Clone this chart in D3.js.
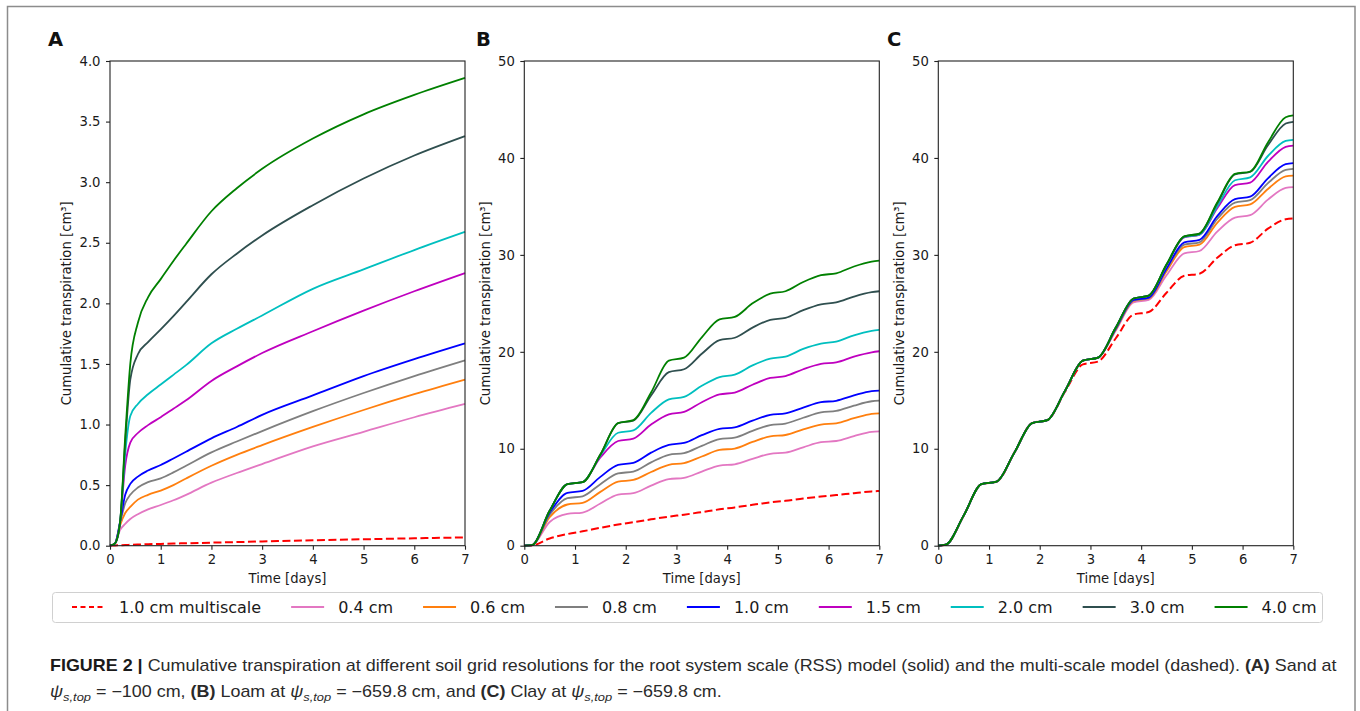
<!DOCTYPE html>
<html>
<head>
<meta charset="utf-8">
<script src="https://cdn.jsdelivr.net/npm/d3@7"></script>
<style>
  body { margin: 0; background: #fff; }
  svg text { font-family: "DejaVu Sans", sans-serif; }
</style>
</head>
<body>
<script>
// ---- data ----
var seriesLabels = ["1.0 cm multiscale", "0.4 cm", "0.6 cm", "0.8 cm", "1.0 cm", "1.5 cm", "2.0 cm", "3.0 cm", "4.0 cm"];
var seriesColors = ["#ff0000", "#e377c2", "#ff7f0e", "#7f7f7f", "#0000ff", "#bf00bf", "#00bfbf", "#2f4f4f", "#008000"];
var dayTicks = [0, 1, 2, 3, 4, 5, 6, 7];
var sandTicks = [0, 0.5, 1, 1.5, 2, 2.5, 3, 3.5, 4];
var loamTicks = [0, 10, 20, 30, 40, 50];

// (A) sand
var timesA = [0, 0.1, 0.2, 0.3, 0.4, 0.55, 0.75, 1, 1.25, 1.5, 2, 2.5, 3, 4, 5, 6, 7];
var sandMulti = [0, 0.002, 0.004, 0.006, 0.007, 0.009, 0.012, 0.015, 0.018, 0.02, 0.025, 0.03, 0.035, 0.045, 0.053, 0.061, 0.068];
var sand04 = [0, 0.02, 0.13, 0.18, 0.22, 0.26, 0.30, 0.336, 0.375, 0.42, 0.52, 0.6, 0.674, 0.82, 0.94, 1.06, 1.17];
var sand06 = [0, 0.02, 0.17, 0.27, 0.32, 0.38, 0.42, 0.455, 0.50, 0.555, 0.66, 0.75, 0.83, 0.98, 1.12, 1.25, 1.37];
var sand08 = [0, 0.02, 0.19, 0.35, 0.42, 0.48, 0.525, 0.556, 0.605, 0.66, 0.77, 0.86, 0.946, 1.11, 1.26, 1.40, 1.53];
var sand10 = [0, 0.02, 0.2, 0.42, 0.51, 0.57, 0.62, 0.666, 0.72, 0.775, 0.886, 0.98, 1.08, 1.24, 1.40, 1.54, 1.67];
var sand15 = [0, 0.02, 0.2, 0.66, 0.85, 0.93, 0.995, 1.06, 1.13, 1.2, 1.36, 1.48, 1.59, 1.77, 1.94, 2.10, 2.25];
var sand20 = [0, 0.02, 0.2, 0.76, 1.07, 1.17, 1.25, 1.33, 1.41, 1.49, 1.67, 1.79, 1.90, 2.12, 2.28, 2.44, 2.59];
var sand30 = [0, 0.02, 0.2, 0.85, 1.37, 1.58, 1.68, 1.785, 1.895, 2.01, 2.24, 2.41, 2.56, 2.81, 3.03, 3.22, 3.38];
var sand40 = [0, 0.02, 0.2, 0.9, 1.5, 1.84, 2.05, 2.2, 2.35, 2.49, 2.76, 2.95, 3.11, 3.36, 3.56, 3.72, 3.86];

// (B) loam and (C) clay share the same sampling days
var timesBC = [0, 0.15, 0.5, 0.85, 1.15, 1.5, 1.85, 2.15, 2.5, 2.85, 3.15, 3.5, 3.85, 4.15, 4.5, 4.85, 5.15, 5.5, 5.85, 6.15, 6.5, 6.85, 7];
var loamMulti = [0, 0.03, 0.75, 1.2, 1.48, 1.85, 2.18, 2.42, 2.72, 3.0, 3.2, 3.47, 3.75, 3.95, 4.22, 4.47, 4.63, 4.87, 5.07, 5.22, 5.42, 5.6, 5.65];
var loam04 = [0, 0.05, 2.45, 3.28, 3.42, 4.35, 5.28, 5.42, 6.2, 6.86, 7.0, 7.65, 8.27, 8.4, 8.95, 9.48, 9.6, 10.15, 10.68, 10.8, 11.3, 11.75, 11.8];
var loam06 = [0, 0.05, 2.95, 4.25, 4.42, 5.55, 6.6, 6.78, 7.6, 8.35, 8.52, 9.2, 9.88, 10.02, 10.7, 11.28, 11.42, 12.0, 12.5, 12.63, 13.15, 13.6, 13.66];
var loam08 = [0, 0.05, 3.2, 4.9, 5.1, 6.35, 7.45, 7.65, 8.6, 9.38, 9.55, 10.3, 11.0, 11.15, 11.85, 12.45, 12.6, 13.2, 13.75, 13.9, 14.45, 14.9, 14.97];
var loam10 = [0, 0.05, 3.4, 5.45, 5.65, 7.1, 8.35, 8.55, 9.6, 10.4, 10.6, 11.4, 12.05, 12.2, 12.9, 13.5, 13.65, 14.25, 14.8, 14.95, 15.5, 15.95, 16.0];
var loam15 = [0, 0.05, 3.6, 6.35, 6.55, 9.1, 10.8, 11.05, 12.5, 13.55, 13.8, 14.8, 15.6, 15.8, 16.6, 17.3, 17.5, 18.2, 18.75, 18.9, 19.5, 19.95, 20.06];
var loam20 = [0, 0.05, 3.6, 6.35, 6.55, 9.3, 11.65, 11.9, 13.7, 15.1, 15.35, 16.5, 17.4, 17.65, 18.6, 19.3, 19.5, 20.3, 20.85, 21.05, 21.7, 22.15, 22.26];
var loam30 = [0, 0.05, 3.6, 6.35, 6.55, 9.4, 12.65, 12.9, 15.5, 17.9, 18.2, 19.8, 21.2, 21.45, 22.5, 23.3, 23.5, 24.3, 24.9, 25.1, 25.7, 26.15, 26.25];
var loam40 = [0, 0.05, 3.6, 6.35, 6.55, 9.4, 12.65, 12.95, 15.8, 19.1, 19.4, 21.5, 23.35, 23.6, 25.0, 26.0, 26.25, 27.2, 27.9, 28.1, 28.8, 29.3, 29.4];

var clayMulti = [0, 0.1, 3.1, 6.35, 6.6, 9.6, 12.65, 12.95, 15.9, 18.7, 19.0, 21.4, 23.85, 24.1, 26.1, 27.85, 28.05, 29.7, 31.0, 31.25, 32.7, 33.68, 33.75];
var clay04 = [0, 0.1, 3.1, 6.35, 6.6, 9.6, 12.65, 12.95, 16.0, 19.1, 19.4, 22.2, 25.1, 25.35, 27.9, 30.15, 30.4, 32.4, 33.85, 34.1, 35.7, 36.9, 36.99];
var clay06 = [0, 0.1, 3.1, 6.35, 6.6, 9.6, 12.65, 12.95, 16.0, 19.1, 19.4, 22.3, 25.25, 25.5, 28.3, 30.8, 31.05, 33.3, 34.95, 35.2, 36.8, 38.1, 38.18];
var clay08 = [0, 0.1, 3.1, 6.35, 6.6, 9.6, 12.65, 12.95, 16.0, 19.1, 19.4, 22.35, 25.3, 25.55, 28.5, 31.05, 31.3, 33.7, 35.4, 35.65, 37.4, 38.77, 38.87];
var clay10 = [0, 0.1, 3.1, 6.35, 6.6, 9.6, 12.65, 12.95, 16.0, 19.1, 19.4, 22.4, 25.35, 25.6, 28.6, 31.3, 31.55, 34.0, 35.75, 36.0, 37.9, 39.35, 39.46];
var clay15 = [0, 0.1, 3.1, 6.35, 6.6, 9.6, 12.65, 12.95, 16.0, 19.1, 19.4, 22.5, 25.5, 25.8, 28.9, 31.8, 32.05, 34.8, 37.2, 37.45, 39.6, 41.15, 41.28];
var clay20 = [0, 0.1, 3.1, 6.35, 6.6, 9.6, 12.65, 12.95, 16.0, 19.1, 19.4, 22.5, 25.5, 25.8, 28.95, 31.85, 32.1, 35.0, 37.7, 38.0, 40.2, 41.75, 41.87];
var clay30 = [0, 0.1, 3.1, 6.35, 6.6, 9.6, 12.65, 12.95, 16.0, 19.1, 19.4, 22.5, 25.5, 25.8, 29.0, 31.9, 32.2, 35.3, 38.3, 38.55, 41.3, 43.55, 43.73];
var clay40 = [0, 0.1, 3.1, 6.35, 6.6, 9.6, 12.65, 12.95, 16.0, 19.1, 19.4, 22.5, 25.5, 25.8, 29.0, 31.9, 32.2, 35.4, 38.35, 38.6, 41.6, 44.2, 44.38];

var panels = [
  {letter: "A", times: timesA, yMax: 4, ticks: sandTicks, fmt: ".1f",
   series: [sandMulti, sand04, sand06, sand08, sand10, sand15, sand20, sand30, sand40]},
  {letter: "B", times: timesBC, yMax: 50, ticks: loamTicks, fmt: "d",
   series: [loamMulti, loam04, loam06, loam08, loam10, loam15, loam20, loam30, loam40]},
  {letter: "C", times: timesBC, yMax: 50, ticks: loamTicks, fmt: "d",
   series: [clayMulti, clay04, clay06, clay08, clay10, clay15, clay20, clay30, clay40]}
];

// ---- layout ----
var W = 1360, H = 711;
var plot = {top: 61, bottom: 545.7, width: 355};
var plotLefts = [110, 524.3, 938.3];
var letterX = [48, 476, 887];
var ink = "#1a1a1a";
var lineW = 1.8, dashW = 2, dashes = "8,3.5";

var svg = d3.select("body").append("svg")
  .attr("width", W)
  .attr("height", H);

//outer frame of the figure
svg.append("rect")
  .attr("x", 7.5).attr("y", 6.5)
  .attr("width", 1347.5).attr("height", 730)
  .attr("fill", "none")
  .attr("stroke", "#8c8c8c")
  .attr("stroke-width", 1.5);

var ph = plot.bottom - plot.top;

panels.forEach(function(p, i){
  var g = svg.append("g")
    .attr("transform", "translate(" + plotLefts[i] + "," + plot.top + ")");
  var x = d3.scaleLinear().domain([0, 7]).range([0, plot.width]);
  var y = d3.scaleLinear().domain([0, p.yMax]).range([ph, 0]);

  var line = d3.line()
    .x(function(d, j){ return x(p.times[j]); })
    .y(function(d){ return y(d); })
    .curve(d3.curveMonotoneX);

  //series in legend order, so 4.0 cm ends up on top
  p.series.forEach(function(s, k){
    g.append("path")
      .datum(s)
      .attr("d", line)
      .attr("fill", "none")
      .attr("stroke", seriesColors[k])
      .attr("stroke-width", k === 0 ? dashW : lineW)
      .attr("stroke-dasharray", k === 0 ? dashes : null)
      .attr("stroke-linejoin", "round");
  });

  g.append("rect")
    .attr("width", plot.width)
    .attr("height", ph)
    .attr("fill", "none")
    .attr("stroke", "#222")
    .attr("stroke-width", 1.1);

  var xa = g.append("g")
    .attr("transform", "translate(0," + ph + ")")
    .call(d3.axisBottom(x).tickValues(dayTicks).tickSize(4).tickSizeOuter(0)
      .tickPadding(5).tickFormat(d3.format("d")));
  var ya = g.append("g")
    .call(d3.axisLeft(y).tickValues(p.ticks).tickSize(4).tickSizeOuter(0)
      .tickPadding(5.5).tickFormat(d3.format(p.fmt)));
  [xa, ya].forEach(function(a){
    a.select(".domain").remove();
    a.attr("font-family", "DejaVu Sans").attr("font-size", 13.2).attr("color", ink);
    a.selectAll("line").attr("stroke", "#222").attr("stroke-width", 1.1);
  });

  //ylabel sits left of the widest tick label
  var maxW = d3.max(ya.selectAll("text").nodes(), function(n){ return n.getBBox().width; });
  g.append("text")
    .attr("transform", "translate(" + (-(4 + 5.5 + maxW + 8.3)) + "," + (ph / 2) + ") rotate(-90)")
    .attr("text-anchor", "middle")
    .attr("font-size", 13.2)
    .attr("fill", ink)
    .text("Cumulative transpiration [cm³]");

  g.append("text")
    .attr("x", plot.width / 2)
    .attr("y", 582.5 - plot.top)
    .attr("text-anchor", "middle")
    .attr("font-size", 13.2)
    .attr("fill", ink)
    .text("Time [days]");

  svg.append("text")
    .attr("x", letterX[i])
    .attr("y", 46)
    .attr("font-size", 19.5)
    .attr("font-weight", "bold")
    .attr("fill", "#111")
    .text(p.letter);
});

// ---- legend ----
var leg = svg.append("g");
leg.append("rect")
  .attr("x", 52.5).attr("y", 592.5)
  .attr("width", 1270).attr("height", 30)
  .attr("rx", 3)
  .attr("fill", "#fff")
  .attr("stroke", "#d0d0d0")
  .attr("stroke-width", 1);
var cx = 72, legY = 607;
seriesLabels.forEach(function(lab, k){
  leg.append("line")
    .attr("x1", cx).attr("x2", cx + 33)
    .attr("y1", legY).attr("y2", legY)
    .attr("stroke", seriesColors[k])
    .attr("stroke-width", k === 0 ? dashW : lineW)
    .attr("stroke-dasharray", k === 0 ? "5,3.5" : null);
  var t = leg.append("text")
    .attr("x", cx + 33 + 14)
    .attr("y", legY + 5.8)
    .attr("font-size", 16)
    .attr("fill", ink)
    .text(lab);
  cx += 33 + 14 + t.node().getComputedTextLength() + 30;
});

// ---- caption ----
var cap = svg.append("g").attr("font-size", 16).attr("fill", "#2a2a2a");
var capFont = "'Liberation Sans', Arial, sans-serif";

function psi(t){
  t.append("tspan").attr("font-style", "italic").text("ψ");
  t.append("tspan").attr("font-style", "italic").attr("font-size", 11.5).attr("dy", 3.5).text("s,top");
  return t.append("tspan").attr("dy", -3.5);
}

var l1 = cap.append("text").attr("x", 50).attr("y", 671.5).style("font-family", capFont);
l1.append("tspan").attr("font-weight", "bold").attr("fill", "#1a1a1a").text("FIGURE 2 | ");
l1.append("tspan").text("Cumulative transpiration at different soil grid resolutions for the root system scale (RSS) model (solid) and the multi-scale model (dashed). ");
l1.append("tspan").attr("font-weight", "bold").text("(A)");
l1.append("tspan").text(" Sand at");

var l2 = cap.append("text").attr("x", 50).attr("y", 697.5).style("font-family", capFont);
psi(l2).text(" = −100 cm, ");
l2.append("tspan").attr("font-weight", "bold").text("(B)");
l2.append("tspan").text(" Loam at ");
psi(l2).text(" = −659.8 cm, and ");
l2.append("tspan").attr("font-weight", "bold").text("(C)");
l2.append("tspan").text(" Clay at ");
psi(l2).text(" = −659.8 cm.");

//reference caption is set in a condensed face; squeeze to its width
var w1 = l1.node().getComputedTextLength();
var sx = 1287 / w1;
cap.attr("transform", "translate(50,0) scale(" + sx + ",1) translate(-50,0)");
</script>
</body>
</html>
